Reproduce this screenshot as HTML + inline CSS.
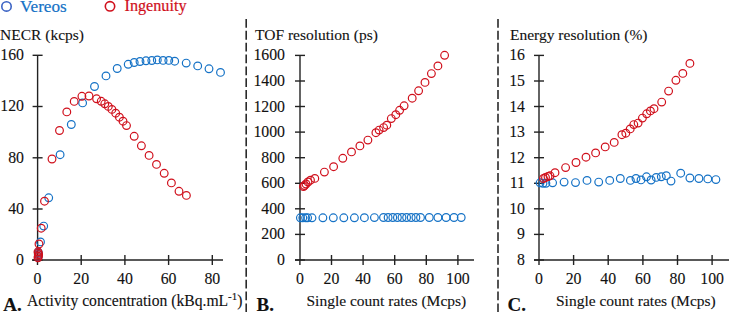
<!DOCTYPE html>
<html><head><meta charset="utf-8"><style>
html,body{margin:0;padding:0;background:#fff;}
svg{display:block;}
text{font-family:"Liberation Serif",serif;fill:#111;stroke:#111;stroke-width:0.12px;}
</style></head><body>
<svg width="729" height="312" viewBox="0 0 729 312">

<line x1="246.2" y1="19" x2="246.2" y2="312" stroke="#2a2a2a" stroke-width="1.6" stroke-dasharray="8.8 3.05"/>
<line x1="498" y1="19" x2="498" y2="312" stroke="#2a2a2a" stroke-width="1.6" stroke-dasharray="8.8 3.05"/>
<circle cx="6.5" cy="6.4" r="4.7" fill="none" stroke="#3b63c4" stroke-width="1.6"/>
<text x="20" y="11.7" style="font-size:17.2px;fill:#1572c6;stroke:#1572c6;stroke-width:0.2px">Vereos</text>
<circle cx="110" cy="6.3" r="4.7" fill="none" stroke="#d0101c" stroke-width="1.6"/>
<text x="124.5" y="11.2" style="font-size:16.2px;fill:#d0101c;stroke:#d0101c;stroke-width:0.2px">Ingenuity</text>
<g stroke="#222" stroke-width="1.4">
<line x1="37.6" y1="55.3" x2="37.6" y2="260"/>
<line x1="32" y1="260" x2="223" y2="260"/>
<line x1="32.6" y1="55.3" x2="42.6" y2="55.3"/>
<line x1="32.6" y1="106.5" x2="42.6" y2="106.5"/>
<line x1="32.6" y1="157.8" x2="42.6" y2="157.8"/>
<line x1="32.6" y1="209.0" x2="42.6" y2="209.0"/>
<line x1="32.6" y1="260.2" x2="42.6" y2="260.2"/>
<line x1="37.5" y1="260" x2="37.5" y2="265"/>
<line x1="81.2" y1="255" x2="81.2" y2="265"/>
<line x1="124.9" y1="255" x2="124.9" y2="265"/>
<line x1="168.6" y1="255" x2="168.6" y2="265"/>
<line x1="212.3" y1="255" x2="212.3" y2="265"/>
</g>
<text x="24" y="60.2" text-anchor="end" style="font-size:15.8px">160</text>
<text x="24" y="111.4" text-anchor="end" style="font-size:15.8px">120</text>
<text x="24" y="162.7" text-anchor="end" style="font-size:15.8px">80</text>
<text x="24" y="213.9" text-anchor="end" style="font-size:15.8px">40</text>
<text x="24" y="265.1" text-anchor="end" style="font-size:15.8px">0</text>
<text x="37.5" y="284.1" text-anchor="middle" style="font-size:15.8px">0</text>
<text x="81.2" y="284.1" text-anchor="middle" style="font-size:15.8px">20</text>
<text x="124.9" y="284.1" text-anchor="middle" style="font-size:15.8px">40</text>
<text x="168.6" y="284.1" text-anchor="middle" style="font-size:15.8px">60</text>
<text x="212.3" y="284.1" text-anchor="middle" style="font-size:15.8px">80</text>
<g stroke="#222" stroke-width="1.4">
<line x1="300" y1="55.4" x2="300" y2="260"/>
<line x1="295" y1="260" x2="474" y2="260"/>
<line x1="295" y1="55.4" x2="305" y2="55.4"/>
<line x1="295" y1="81.0" x2="305" y2="81.0"/>
<line x1="295" y1="106.5" x2="305" y2="106.5"/>
<line x1="295" y1="132.1" x2="305" y2="132.1"/>
<line x1="295" y1="157.7" x2="305" y2="157.7"/>
<line x1="295" y1="183.3" x2="305" y2="183.3"/>
<line x1="295" y1="208.8" x2="305" y2="208.8"/>
<line x1="295" y1="234.4" x2="305" y2="234.4"/>
<line x1="295" y1="260.0" x2="305" y2="260.0"/>
<line x1="299.9" y1="260" x2="299.9" y2="265"/>
<line x1="331.5" y1="255" x2="331.5" y2="265"/>
<line x1="363.1" y1="255" x2="363.1" y2="265"/>
<line x1="394.7" y1="255" x2="394.7" y2="265"/>
<line x1="426.3" y1="255" x2="426.3" y2="265"/>
<line x1="457.9" y1="255" x2="457.9" y2="265"/>
</g>
<text x="285" y="60.3" text-anchor="end" style="font-size:15.8px">1600</text>
<text x="285" y="85.9" text-anchor="end" style="font-size:15.8px">1400</text>
<text x="285" y="111.5" text-anchor="end" style="font-size:15.8px">1200</text>
<text x="285" y="137.0" text-anchor="end" style="font-size:15.8px">1000</text>
<text x="285" y="162.6" text-anchor="end" style="font-size:15.8px">800</text>
<text x="285" y="188.2" text-anchor="end" style="font-size:15.8px">600</text>
<text x="285" y="213.8" text-anchor="end" style="font-size:15.8px">400</text>
<text x="285" y="239.3" text-anchor="end" style="font-size:15.8px">200</text>
<text x="285" y="264.9" text-anchor="end" style="font-size:15.8px">0</text>
<text x="299.9" y="284.1" text-anchor="middle" style="font-size:15.8px">0</text>
<text x="331.5" y="284.1" text-anchor="middle" style="font-size:15.8px">20</text>
<text x="363.1" y="284.1" text-anchor="middle" style="font-size:15.8px">40</text>
<text x="394.7" y="284.1" text-anchor="middle" style="font-size:15.8px">60</text>
<text x="426.3" y="284.1" text-anchor="middle" style="font-size:15.8px">80</text>
<text x="457.9" y="284.1" text-anchor="middle" style="font-size:15.8px">100</text>
<g stroke="#222" stroke-width="1.4">
<line x1="539" y1="55.4" x2="539" y2="260"/>
<line x1="534" y1="260" x2="729" y2="260"/>
<line x1="534" y1="55.4" x2="544" y2="55.4"/>
<line x1="534" y1="81.0" x2="544" y2="81.0"/>
<line x1="534" y1="106.5" x2="544" y2="106.5"/>
<line x1="534" y1="132.1" x2="544" y2="132.1"/>
<line x1="534" y1="157.7" x2="544" y2="157.7"/>
<line x1="534" y1="183.3" x2="544" y2="183.3"/>
<line x1="534" y1="208.8" x2="544" y2="208.8"/>
<line x1="534" y1="234.4" x2="544" y2="234.4"/>
<line x1="534" y1="260.0" x2="544" y2="260.0"/>
<line x1="539.0" y1="260" x2="539.0" y2="265"/>
<line x1="573.6" y1="255" x2="573.6" y2="265"/>
<line x1="608.2" y1="255" x2="608.2" y2="265"/>
<line x1="642.9" y1="255" x2="642.9" y2="265"/>
<line x1="677.5" y1="255" x2="677.5" y2="265"/>
<line x1="712.1" y1="255" x2="712.1" y2="265"/>
</g>
<text x="525" y="60.3" text-anchor="end" style="font-size:15.8px">16</text>
<text x="525" y="85.9" text-anchor="end" style="font-size:15.8px">15</text>
<text x="525" y="111.5" text-anchor="end" style="font-size:15.8px">14</text>
<text x="525" y="137.0" text-anchor="end" style="font-size:15.8px">13</text>
<text x="525" y="162.6" text-anchor="end" style="font-size:15.8px">12</text>
<text x="525" y="188.2" text-anchor="end" style="font-size:15.8px">11</text>
<text x="525" y="213.8" text-anchor="end" style="font-size:15.8px">10</text>
<text x="525" y="239.3" text-anchor="end" style="font-size:15.8px">9</text>
<text x="525" y="264.9" text-anchor="end" style="font-size:15.8px">8</text>
<text x="539.0" y="284.1" text-anchor="middle" style="font-size:15.8px">0</text>
<text x="573.6" y="284.1" text-anchor="middle" style="font-size:15.8px">20</text>
<text x="608.2" y="284.1" text-anchor="middle" style="font-size:15.8px">40</text>
<text x="642.9" y="284.1" text-anchor="middle" style="font-size:15.8px">60</text>
<text x="677.5" y="284.1" text-anchor="middle" style="font-size:15.8px">80</text>
<text x="712.1" y="284.1" text-anchor="middle" style="font-size:15.8px">100</text>
<text x="0" y="39.6" style="font-size:15.5px">NECR (kcps)</text>
<text x="255" y="39.6" style="font-size:15.5px">TOF resolution (ps)</text>
<text x="510" y="39.6" style="font-size:15.5px">Energy resolution (%)</text>
<text x="3.2" y="310.8" style="font-size:19px;font-weight:bold">A.</text>
<text x="27" y="305.8" style="font-size:15.65px">Activity concentration (kBq.mL<tspan dy="-5.5" style="font-size:11px">-1</tspan><tspan dy="5.5">)</tspan></text>
<text x="256.6" y="310.8" style="font-size:19px;font-weight:bold">B.</text>
<text x="306.5" y="305.6" style="font-size:15.5px">Single count rates (Mcps)</text>
<text x="507.5" y="310.8" style="font-size:19px;font-weight:bold">C.</text>
<text x="556" y="305.6" style="font-size:15.5px">Single count rates (Mcps)</text>
<g fill="none" stroke="#1572c6" stroke-width="1.2"><circle cx="38.3" cy="256.5" r="3.85"/><circle cx="38.3" cy="254.5" r="3.85"/><circle cx="38.3" cy="252.5" r="3.85"/><circle cx="40.5" cy="241.9" r="3.85"/><circle cx="43.7" cy="226.1" r="3.85"/><circle cx="48.7" cy="197.8" r="3.85"/><circle cx="60.1" cy="154.7" r="3.85"/><circle cx="71.3" cy="124.5" r="3.85"/><circle cx="82.6" cy="102.9" r="3.85"/><circle cx="94.5" cy="86.5" r="3.85"/><circle cx="106.0" cy="75.9" r="3.85"/><circle cx="117.2" cy="68.5" r="3.85"/><circle cx="128.2" cy="64.3" r="3.85"/><circle cx="134.2" cy="62.5" r="3.85"/><circle cx="140.0" cy="61.5" r="3.85"/><circle cx="146.0" cy="60.8" r="3.85"/><circle cx="151.8" cy="60.5" r="3.85"/><circle cx="157.3" cy="59.9" r="3.85"/><circle cx="163.1" cy="60.4" r="3.85"/><circle cx="168.8" cy="60.4" r="3.85"/><circle cx="174.7" cy="61.2" r="3.85"/><circle cx="186.2" cy="63.1" r="3.85"/><circle cx="197.7" cy="65.9" r="3.85"/><circle cx="209.0" cy="68.8" r="3.85"/><circle cx="220.5" cy="72.4" r="3.85"/><circle cx="300.4" cy="217.8" r="3.85"/><circle cx="302.8" cy="217.8" r="3.85"/><circle cx="305.6" cy="217.8" r="3.85"/><circle cx="307.6" cy="217.8" r="3.85"/><circle cx="312.0" cy="217.8" r="3.85"/><circle cx="322.9" cy="217.8" r="3.85"/><circle cx="333.3" cy="217.8" r="3.85"/><circle cx="343.8" cy="217.8" r="3.85"/><circle cx="354.4" cy="217.8" r="3.85"/><circle cx="364.4" cy="217.7" r="3.85"/><circle cx="374.4" cy="217.6" r="3.85"/><circle cx="383.5" cy="217.5" r="3.85"/><circle cx="388.1" cy="217.5" r="3.85"/><circle cx="392.8" cy="217.5" r="3.85"/><circle cx="397.4" cy="217.5" r="3.85"/><circle cx="402.0" cy="217.5" r="3.85"/><circle cx="406.6" cy="217.5" r="3.85"/><circle cx="411.2" cy="217.5" r="3.85"/><circle cx="415.9" cy="217.5" r="3.85"/><circle cx="420.5" cy="217.5" r="3.85"/><circle cx="429.3" cy="217.5" r="3.85"/><circle cx="437.9" cy="217.5" r="3.85"/><circle cx="446.1" cy="217.5" r="3.85"/><circle cx="454.0" cy="217.5" r="3.85"/><circle cx="461.2" cy="217.5" r="3.85"/><circle cx="540.1" cy="182.8" r="3.85"/><circle cx="543.0" cy="183.3" r="3.85"/><circle cx="545.9" cy="183.3" r="3.85"/><circle cx="552.6" cy="182.8" r="3.85"/><circle cx="564.1" cy="182.1" r="3.85"/><circle cx="575.5" cy="182.6" r="3.85"/><circle cx="587.0" cy="180.4" r="3.85"/><circle cx="598.7" cy="182.1" r="3.85"/><circle cx="609.7" cy="180.4" r="3.85"/><circle cx="620.3" cy="178.5" r="3.85"/><circle cx="630.4" cy="180.4" r="3.85"/><circle cx="636.0" cy="178.5" r="3.85"/><circle cx="641.0" cy="179.9" r="3.85"/><circle cx="646.5" cy="176.8" r="3.85"/><circle cx="651.1" cy="180.0" r="3.85"/><circle cx="656.2" cy="177.4" r="3.85"/><circle cx="661.3" cy="176.8" r="3.85"/><circle cx="666.3" cy="175.7" r="3.85"/><circle cx="671.0" cy="181.1" r="3.85"/><circle cx="680.7" cy="173.2" r="3.85"/><circle cx="689.9" cy="178.0" r="3.85"/><circle cx="698.9" cy="178.5" r="3.85"/><circle cx="707.8" cy="178.9" r="3.85"/><circle cx="715.9" cy="179.6" r="3.85"/></g>
<g fill="none" stroke="#d0101c" stroke-width="1.2"><circle cx="38.0" cy="257.8" r="3.85"/><circle cx="38.3" cy="256.3" r="3.85"/><circle cx="38.6" cy="254.8" r="3.85"/><circle cx="38.3" cy="253.3" r="3.85"/><circle cx="38.0" cy="251.8" r="3.85"/><circle cx="39.0" cy="244.0" r="3.85"/><circle cx="41.2" cy="228.2" r="3.85"/><circle cx="44.5" cy="201.2" r="3.85"/><circle cx="52.0" cy="159.0" r="3.85"/><circle cx="59.5" cy="130.5" r="3.85"/><circle cx="66.8" cy="111.9" r="3.85"/><circle cx="74.2" cy="101.4" r="3.85"/><circle cx="81.9" cy="96.3" r="3.85"/><circle cx="89.0" cy="96.0" r="3.85"/><circle cx="96.6" cy="98.8" r="3.85"/><circle cx="101.2" cy="101.3" r="3.85"/><circle cx="104.8" cy="103.8" r="3.85"/><circle cx="108.3" cy="106.4" r="3.85"/><circle cx="111.9" cy="109.4" r="3.85"/><circle cx="115.7" cy="113.2" r="3.85"/><circle cx="119.4" cy="117.2" r="3.85"/><circle cx="123.0" cy="121.2" r="3.85"/><circle cx="126.5" cy="125.6" r="3.85"/><circle cx="134.2" cy="136.3" r="3.85"/><circle cx="141.4" cy="145.8" r="3.85"/><circle cx="149.1" cy="155.4" r="3.85"/><circle cx="156.5" cy="164.4" r="3.85"/><circle cx="164.2" cy="173.3" r="3.85"/><circle cx="171.4" cy="182.9" r="3.85"/><circle cx="179.0" cy="191.3" r="3.85"/><circle cx="186.4" cy="195.4" r="3.85"/><circle cx="303.5" cy="186.5" r="3.85"/><circle cx="304.5" cy="185.5" r="3.85"/><circle cx="306.0" cy="184.0" r="3.85"/><circle cx="308.0" cy="182.0" r="3.85"/><circle cx="310.5" cy="180.2" r="3.85"/><circle cx="314.8" cy="178.4" r="3.85"/><circle cx="324.4" cy="172.1" r="3.85"/><circle cx="333.6" cy="166.7" r="3.85"/><circle cx="342.8" cy="158.3" r="3.85"/><circle cx="351.5" cy="151.9" r="3.85"/><circle cx="359.9" cy="145.9" r="3.85"/><circle cx="367.9" cy="140.1" r="3.85"/><circle cx="375.9" cy="132.7" r="3.85"/><circle cx="379.1" cy="130.1" r="3.85"/><circle cx="383.6" cy="127.6" r="3.85"/><circle cx="386.8" cy="125.2" r="3.85"/><circle cx="391.3" cy="118.6" r="3.85"/><circle cx="395.8" cy="114.7" r="3.85"/><circle cx="399.6" cy="110.3" r="3.85"/><circle cx="404.1" cy="105.8" r="3.85"/><circle cx="412.2" cy="98.2" r="3.85"/><circle cx="418.6" cy="90.8" r="3.85"/><circle cx="425.0" cy="82.4" r="3.85"/><circle cx="431.4" cy="73.6" r="3.85"/><circle cx="437.9" cy="65.9" r="3.85"/><circle cx="444.6" cy="55.3" r="3.85"/><circle cx="543.5" cy="178.5" r="3.85"/><circle cx="545.5" cy="177.5" r="3.85"/><circle cx="548.0" cy="176.5" r="3.85"/><circle cx="550.0" cy="175.8" r="3.85"/><circle cx="555.0" cy="172.7" r="3.85"/><circle cx="565.6" cy="167.6" r="3.85"/><circle cx="576.0" cy="162.5" r="3.85"/><circle cx="586.0" cy="157.2" r="3.85"/><circle cx="595.6" cy="152.9" r="3.85"/><circle cx="605.2" cy="146.9" r="3.85"/><circle cx="614.2" cy="142.4" r="3.85"/><circle cx="621.9" cy="134.7" r="3.85"/><circle cx="625.8" cy="133.2" r="3.85"/><circle cx="630.2" cy="128.9" r="3.85"/><circle cx="633.8" cy="124.6" r="3.85"/><circle cx="638.1" cy="123.1" r="3.85"/><circle cx="642.4" cy="118.1" r="3.85"/><circle cx="646.7" cy="113.8" r="3.85"/><circle cx="650.4" cy="110.9" r="3.85"/><circle cx="654.0" cy="108.7" r="3.85"/><circle cx="661.7" cy="102.1" r="3.85"/><circle cx="668.6" cy="91.1" r="3.85"/><circle cx="675.9" cy="80.3" r="3.85"/><circle cx="682.8" cy="73.4" r="3.85"/><circle cx="689.9" cy="63.4" r="3.85"/></g>
</svg></body></html>
